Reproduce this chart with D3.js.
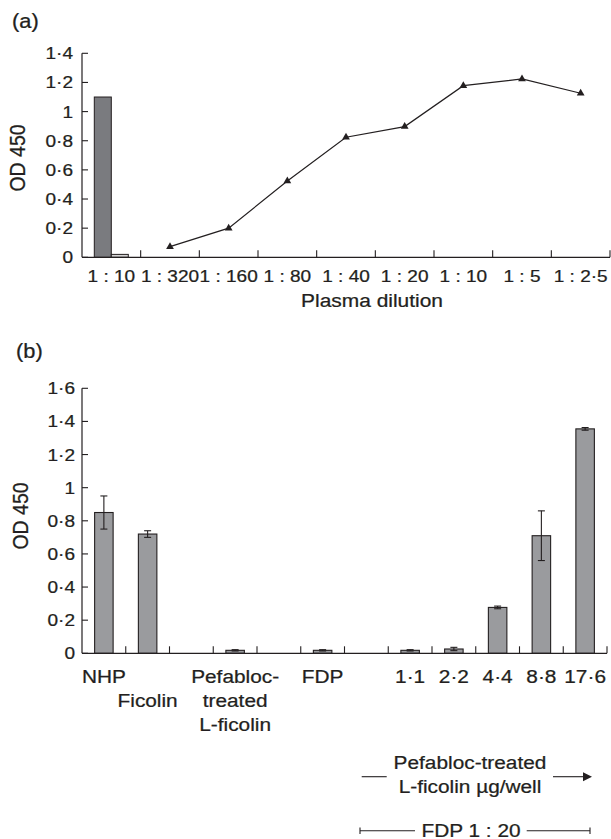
<!DOCTYPE html>
<html>
<head>
<meta charset="utf-8">
<script src="https://cdn.jsdelivr.net/npm/d3@7"></script>
<style>
  body{margin:0;background:#fff;}
  svg text{font-family:"Liberation Sans",Arial,sans-serif;fill:#231f20;stroke:#231f20;stroke-width:0.25px;}
</style>
</head>
<body>
<svg id="chart" width="611" height="839"></svg>
<script>
// panel (a)
var aCategories=['1 : 10','1 : 320','1 : 160','1 : 80','1 : 40','1 : 20','1 : 10','1 : 5','1 : 2·5'];
var aBarSeries=['dark','light'];
var aBarValues=[1.1,0.02];          // both in the first category
var aLineValues=[null,0.073,0.2,0.524,0.824,0.897,1.178,1.224,1.126];
var aYTicks=[0,0.2,0.4,0.6,0.8,1,1.2,1.4];
var aYTickLabels=['0','0·2','0·4','0·6','0·8','1','1·2','1·4'];

// panel (b)
var bCategories=[['NHP'],['','Ficolin'],[],['Pefabloc-','treated','L-ficolin'],[],['FDP'],[],['1·1'],['2·2'],['4·4'],['8·8'],['17·6']];
var bValues=[0.85,0.72,null,0.018,null,0.018,null,0.018,0.026,0.277,0.71,1.355];
var bErrors=[0.10,0.02,null,0.004,null,0.004,null,0.004,0.01,0.008,0.15,0.008];
var bYTicks=[0,0.2,0.4,0.6,0.8,1,1.2,1.4,1.6];
var bYTickLabels=['0','0·2','0·4','0·6','0·8','1','1·2','1·4','1·6'];

var svg=d3.select('#chart');
var stretch=1.12;   // the reference type is a little wide

function label(parent,x,y,str,size,anchor){
    return parent.append('text')
        .attr('transform','translate('+x+','+y+') scale('+stretch+',1)')
        .attr('text-anchor',anchor||'middle')
        .style('font-size',size+'px')
        .text(str);
}

function drawYAxis(g,y,ticks,labels,x0,labelX){
    g.append('line')
        .attr('x1',x0).attr('x2',x0)
        .attr('y1',y(0)).attr('y2',y(ticks[ticks.length-1]))
        .attr('stroke','#231f20').attr('stroke-width',1.2);
    ticks.forEach(function(t,i){
        g.append('line')
            .attr('x1',x0).attr('x2',x0+6)
            .attr('y1',y(t)).attr('y2',y(t))
            .attr('stroke','#231f20').attr('stroke-width',1.1);
        label(g,labelX,y(t)+6,labels[i],17,'end');
    });
}

function drawXAxis(g,x,n,yBase){
    var r=x.range();
    g.append('line')
        .attr('x1',r[0]).attr('x2',r[1])
        .attr('y1',yBase).attr('y2',yBase)
        .attr('stroke','#231f20').attr('stroke-width',1.2);
    for(var i=1;i<=n;i++){
        var xx=r[0]+x.step()*i;
        g.append('line')
            .attr('x1',xx).attr('x2',xx)
            .attr('y1',yBase).attr('y2',yBase-7)
            .attr('stroke','#231f20').attr('stroke-width',1.1);
    }
}

// ---------- (a) ----------
var ga=svg.append('g');
var xa=d3.scaleBand().domain(d3.range(aCategories.length)).range([82,610]).paddingInner(0).paddingOuter(0);
var ya=d3.scaleLinear().domain([0,1.4]).range([257.3,53.3]);

label(ga,12,28,'(a)',19.5,'start');

// grouped bars in the first slot
var xaSub=d3.scaleBand().domain(aBarSeries).range([xa(0)+12.3,xa(0)+46.3]);
ga.selectAll('rect.abar')
    .data(aBarValues)
    .enter()
    .append('rect')
    .attr('class','abar')
    .attr('x',function(d,i){return xaSub(aBarSeries[i]);})
    .attr('width',xaSub.bandwidth())
    .attr('y',function(d){return ya(d);})
    .attr('height',function(d){return ya(0)-ya(d);})
    .attr('fill',function(d,i){return i==0?'#7a7b7f':'#d4d4d4';})
    .attr('stroke','#231f20').attr('stroke-width',1);

drawXAxis(ga,xa,aCategories.length,ya(0));
drawYAxis(ga,ya,aYTicks,aYTickLabels,82,73);

var linePts=aLineValues.map(function(v,i){return {i:i,v:v};}).filter(function(d){return d.v!=null;});
ga.append('path')
    .datum(linePts)
    .attr('fill','none')
    .attr('stroke','#231f20')
    .attr('stroke-width',1.2)
    .attr('d',d3.line()
        .x(function(d){return xa(d.i)+xa.bandwidth()/2;})
        .y(function(d){return ya(d.v);}));
ga.selectAll('path.tri')
    .data(linePts)
    .enter()
    .append('path')
    .attr('class','tri')
    .attr('transform',function(d){return 'translate('+(xa(d.i)+xa.bandwidth()/2)+','+ya(d.v)+')';})
    .attr('d',d3.symbol().type(d3.symbolTriangle).size(26))
    .attr('fill','#231f20');

aCategories.forEach(function(c,i){
    label(ga,xa(i)+xa.bandwidth()/2,282,c,17);
});
label(ga,372,307,'Plasma dilution',18.7);
ga.append('text')
    .attr('transform','translate(25,158) scale('+stretch+',1) rotate(-90)')
    .attr('text-anchor','middle')
    .style('font-size','19.5px')
    .text('OD 450');

// ---------- (b) ----------
var gb=svg.append('g');
var xb=d3.scaleBand().domain(d3.range(bCategories.length)).range([82,607]).paddingInner(0).paddingOuter(0);
var yb=d3.scaleLinear().domain([0,1.6]).range([653.3,388.3]);
var barW=18.5;

label(gb,16,358,'(b)',19.5,'start');

var bData=bValues.map(function(v,i){return {i:i,v:v,e:bErrors[i]};}).filter(function(d){return d.v!=null;});
gb.selectAll('rect.bbar')
    .data(bData)
    .enter()
    .append('rect')
    .attr('class','bbar')
    .attr('x',function(d){return xb(d.i)+xb.bandwidth()/2-barW/2;})
    .attr('width',barW)
    .attr('y',function(d){return yb(d.v);})
    .attr('height',function(d){return yb(0)-yb(d.v);})
    .attr('fill','#9a9b9e')
    .attr('stroke','#231f20').attr('stroke-width',1.1);

var err=gb.selectAll('g.err')
    .data(bData)
    .enter()
    .append('g')
    .attr('class','err')
    .attr('stroke','#231f20').attr('stroke-width',1.1);
err.append('line')
    .attr('x1',function(d){return xb(d.i)+xb.bandwidth()/2;})
    .attr('x2',function(d){return xb(d.i)+xb.bandwidth()/2;})
    .attr('y1',function(d){return yb(d.v+d.e);})
    .attr('y2',function(d){return yb(d.v-d.e);});
[1,-1].forEach(function(s){
    err.append('line')
        .attr('x1',function(d){return xb(d.i)+xb.bandwidth()/2-3.5;})
        .attr('x2',function(d){return xb(d.i)+xb.bandwidth()/2+3.5;})
        .attr('y1',function(d){return yb(d.v+s*d.e);})
        .attr('y2',function(d){return yb(d.v+s*d.e);});
});

drawXAxis(gb,xb,bCategories.length,yb(0));
drawYAxis(gb,yb,bYTicks,bYTickLabels,82,75);

bCategories.forEach(function(lines,i){
    lines.forEach(function(t,k){
        if(t) label(gb,xb(i)+xb.bandwidth()/2,683+k*24,t,18.6);
    });
});
gb.append('text')
    .attr('transform','translate(28,516) scale('+stretch+',1) rotate(-90)')
    .attr('text-anchor','middle')
    .style('font-size','19.5px')
    .text('OD 450');

// note under panel (b)
label(gb,470,769.3,'Pefabloc-treated',18.6);
label(gb,470,793,'L-ficolin µg/well',18.6);
gb.append('line').attr('x1',361.7).attr('x2',386.7).attr('y1',776.7).attr('y2',776.7)
    .attr('stroke','#231f20').attr('stroke-width',1.1);
gb.append('line').attr('x1',553).attr('x2',585).attr('y1',776.7).attr('y2',776.7)
    .attr('stroke','#231f20').attr('stroke-width',1.1);
gb.append('path').attr('d','M583,772.2L592,776.7L583,781.2Z').attr('fill','#231f20');

label(gb,471,836.7,'FDP 1 : 20',18.6);
[[360,415],[526.7,590]].forEach(function(seg){
    gb.append('line').attr('x1',seg[0]).attr('x2',seg[1]).attr('y1',830.7).attr('y2',830.7)
        .attr('stroke','#231f20').attr('stroke-width',1.1);
});
[360,590].forEach(function(xx){
    gb.append('line').attr('x1',xx).attr('x2',xx).attr('y1',827.5).attr('y2',834)
        .attr('stroke','#231f20').attr('stroke-width',1.1);
});
</script>
</body>
</html>
